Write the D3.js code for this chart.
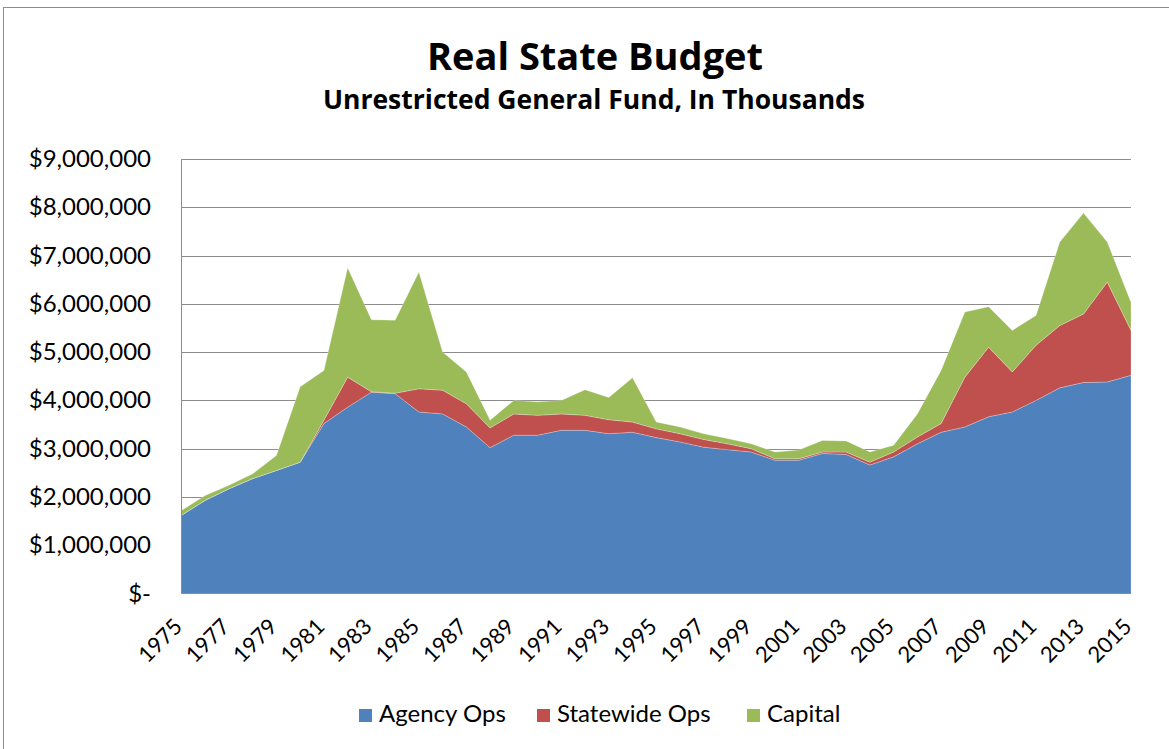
<!DOCTYPE html>
<html>
<head>
<meta charset="utf-8">
<script src="https://cdn.jsdelivr.net/npm/d3@7"></script>
<style>
  html, body { margin: 0; padding: 0; background: #fff; }
  svg { display: block; font-family: Lato, "Open Sans", sans-serif; }
</style>
</head>
<body>
<svg width="1169" height="749"></svg>
<script>
// 연도 (1975 ~ 2015)
const years = d3.range(1975, 2016);

// 값은 천 달러 단위 (그림에서 읽은 추정값)
const agencyOps = [
  1620000, 1930000, 2170000, 2380000, 2550000, 2720000, 3520000, 3860000, 4170000, 4140000,
  3760000, 3720000, 3450000, 3020000, 3280000, 3280000, 3380000, 3380000, 3310000, 3340000,
  3230000, 3140000, 3030000, 2980000, 2930000, 2760000, 2760000, 2900000, 2880000, 2660000,
  2830000, 3100000, 3340000, 3450000, 3660000, 3760000, 4000000, 4260000, 4370000, 4380000,
  4520000
];
const statewideOps = [
  0, 0, 0, 0, 0, 0, 70000, 620000, 10000, 10000,
  480000, 490000, 480000, 410000, 440000, 410000, 340000, 310000, 290000, 210000,
  180000, 170000, 160000, 120000, 70000, 30000, 30000, 30000, 50000, 60000,
  100000, 140000, 180000, 1030000, 1440000, 830000, 1140000, 1290000, 1420000, 2070000,
  930000
];
const capital = [
  100000, 100000, 70000, 100000, 310000, 1560000, 1030000, 2270000, 1490000, 1510000,
  2420000, 790000, 660000, 160000, 280000, 280000, 280000, 530000, 460000, 920000,
  140000, 140000, 120000, 110000, 100000, 140000, 180000, 240000, 230000, 210000,
  140000, 480000, 1100000, 1350000, 840000, 860000, 620000, 1730000, 2090000, 830000,
  580000
];

const seriesNames = ["Agency Ops", "Statewide Ops", "Capital"];
const seriesColors = ["#4f81bd", "#c0504d", "#9bbb59"];
const yTicks = [0, 1000000, 2000000, 3000000, 4000000, 5000000, 6000000, 7000000, 8000000, 9000000];
const xTickYears = years.filter((y) => (y - 1975) % 2 === 0);

renderChart();

function renderChart() {
  const svg = d3.select("svg");
  svg.selectAll("*").remove();

  // 바깥 테두리
  svg.append("rect")
    .attr("x", 3.5).attr("y", 7.5)
    .attr("width", 1200).attr("height", 800)
    .attr("fill", "none").attr("stroke", "#8c8c8c");

  const plot = { left: 181.5, right: 1131, top: 159, bottom: 593.5 };

  const x = d3.scaleLinear().domain([1975, 2015]).range([plot.left, plot.right]);
  const y = d3.scaleLinear().domain([0, 9000000]).range([plot.bottom, plot.top]);

  const table = years.map((yr, i) => ({
    year: yr,
    "Agency Ops": agencyOps[i],
    "Statewide Ops": statewideOps[i],
    "Capital": capital[i]
  }));
  const stacked = d3.stack().keys(seriesNames)(table);

  // 그리드 선
  svg.append("g")
    .selectAll("line")
    .data(yTicks.slice(1))
    .join("line")
    .attr("x1", plot.left).attr("x2", plot.right)
    .attr("y1", (d) => Math.round(y(d)) + 0.5)
    .attr("y2", (d) => Math.round(y(d)) + 0.5)
    .attr("stroke", "#8c8c8c")
    .attr("stroke-width", 1);

  const area = d3.area()
    .x((d) => x(d.data.year))
    .y0((d) => y(d[0]))
    .y1((d) => y(d[1]));

  svg.append("g")
    .selectAll("path")
    .data(stacked)
    .join("path")
    .attr("d", area)
    .attr("fill", (d, i) => seriesColors[i])
    .attr("stroke", "#ffffff")
    .attr("stroke-opacity", 0.3)
    .attr("stroke-width", 0.8);

  // 축 선
  svg.append("line")
    .attr("x1", plot.left).attr("x2", plot.left)
    .attr("y1", plot.top).attr("y2", plot.bottom)
    .attr("stroke", "#8c8c8c");
  svg.append("line")
    .attr("x1", plot.left).attr("x2", plot.right)
    .attr("y1", plot.bottom).attr("y2", plot.bottom)
    .attr("stroke", "#8c8c8c");

  // Y축 라벨
  const fmt = d3.format(",");
  svg.append("g")
    .selectAll("text")
    .data(yTicks)
    .join("text")
    .text((d) => (d === 0 ? "$-" : "$" + fmt(d)))
    .attr("x", 151)
    .attr("y", (d) => y(d) + 8)
    .attr("text-anchor", "end")
    .style("font-size", "24px")
    .style("fill", "#000");

  // X축 라벨 (45도 회전)
  svg.append("g")
    .selectAll("text")
    .data(xTickYears)
    .join("text")
    .text((d) => d)
    .attr("transform", (d) => `translate(${x(d) + 2}, 628) rotate(-45)`)
    .attr("text-anchor", "end")
    .style("font-size", "22px")
    .style("fill", "#000");

  // 제목
  svg.append("text")
    .text("Real State Budget")
    .attr("x", 595).attr("y", 70)
    .attr("text-anchor", "middle")
    .style("font-family", "'Open Sans', Lato, sans-serif")
    .style("font-size", "38px")
    .style("font-weight", "bold");
  svg.append("text")
    .text("Unrestricted General Fund, In Thousands")
    .attr("x", 594).attr("y", 109)
    .attr("text-anchor", "middle")
    .style("font-family", "'Open Sans', Lato, sans-serif")
    .style("font-size", "26.5px")
    .style("font-weight", "bold");

  // 범례
  const legendX = [359, 537, 747];
  const legend = svg.append("g")
    .selectAll("g")
    .data(seriesNames)
    .join("g")
    .attr("transform", (d, i) => `translate(${legendX[i]}, 709)`);
  legend.append("rect")
    .attr("width", 13).attr("height", 13)
    .attr("fill", (d, i) => seriesColors[i]);
  legend.append("text")
    .text((d) => d)
    .attr("x", 20).attr("y", 13)
    .style("font-size", "24px")
    .style("fill", "#000");
}
</script>
</body>
</html>
